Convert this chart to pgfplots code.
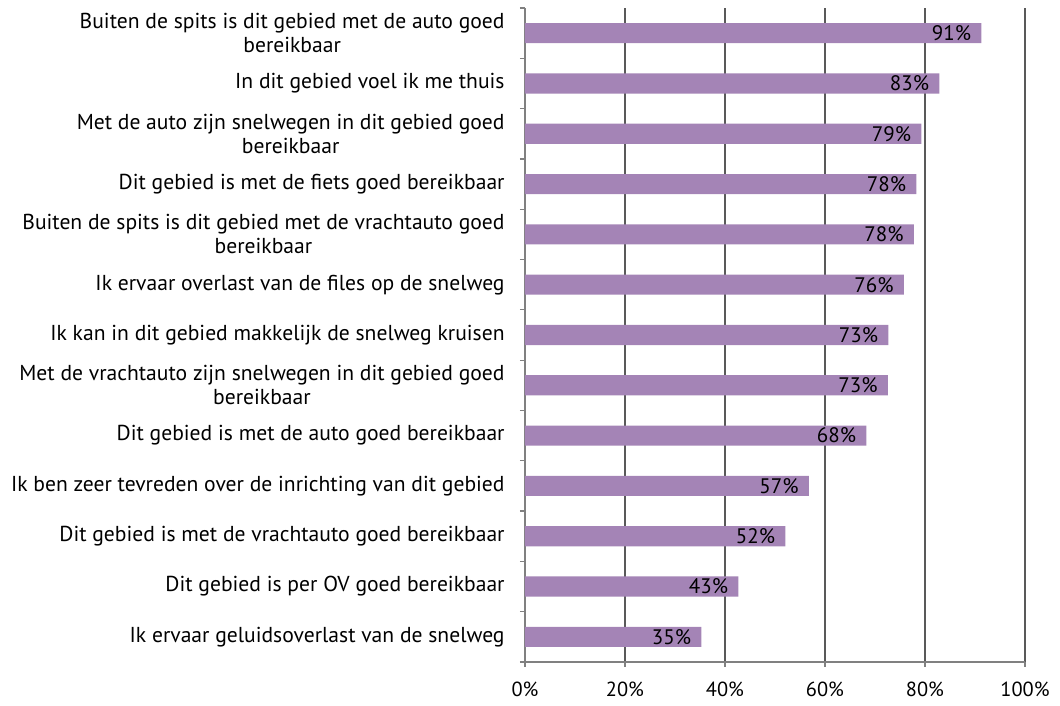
\documentclass[border=0pt]{standalone}
\usepackage{fontspec}
\setmainfont{PT Sans}
\usepackage{pgfplots}
\usepackage{pgfplotstable}
\pgfplotsset{compat=1.18}
\definecolor{barpurple}{RGB}{164,132,182}
\definecolor{gridgray}{RGB}{89,89,89}
\definecolor{axisgray}{RGB}{128,128,128}

\pgfplotstableread{
pos value lbl
12 91.3 91\%
11 82.9 83\%
10 79.3 79\%
9  78.3 78\%
8  77.8 78\%
7  75.8 76\%
6  72.7 73\%
5  72.6 73\%
4  68.3 68\%
3  56.8 57\%
2  52.1 52\%
1  42.7 43\%
0  35.3 35\%
}\scores

\begin{document}
\begin{tikzpicture}
\path[use as bounding box] (-262.5pt,-22pt) rectangle (267.5pt,331pt);
\begin{axis}[
    at={(0,0)}, anchor=south west,
    scale only axis,
    width=250pt, height=327pt,
    xbar, bar width=0.4,
    xmin=0, xmax=100,
    ymin=-0.5, ymax=12.5,
    xtick={0,20,...,100},
    xticklabel={\pgfmathprintnumber{\tick}\%},
    /pgf/number format/assume math mode=true,
    ytick={0,...,12},
    yticklabels={
        Ik ervaar geluidsoverlast van de snelweg,
        Dit gebied is per OV goed bereikbaar,
        Dit gebied is met de vrachtauto goed bereikbaar,
        Ik ben zeer tevreden over de inrichting van dit gebied,
        Dit gebied is met de auto goed bereikbaar,
        {Met de vrachtauto zijn snelwegen in dit gebied goed\\bereikbaar},
        Ik kan in dit gebied makkelijk de snelweg kruisen,
        Ik ervaar overlast van de files op de snelweg,
        {Buiten de spits is dit gebied met de vrachtauto goed\\bereikbaar},
        Dit gebied is met de fiets goed bereikbaar,
        {Met de auto zijn snelwegen in dit gebied goed\\bereikbaar},
        In dit gebied voel ik me thuis,
        {Buiten de spits is dit gebied met de auto goed\\bereikbaar},
    },
    minor ytick={-0.5,0.5,...,12.5},
    major tick length=2.5pt,
    minor tick length=2.5pt,
    tick align=outside,
    xtick pos=bottom, ytick pos=left,
    y tick style={draw=none},
    minor y tick style={draw=axisgray, line width=0.6pt},
    x tick style={draw=axisgray, line width=0.6pt},
    axis x line*=bottom, axis y line*=left,
    axis line style={draw=axisgray, line width=0.7pt},
    xmajorgrids=true,
    grid style={draw=gridgray, line width=0.6pt},
    yticklabel style={align=center, font=\fontsize{10.8}{12}\selectfont, inner sep=0pt, xshift=-7.5pt},
    xticklabel style={font=\fontsize{10.2}{12}\selectfont, yshift=-4pt},
    nodes near coords={\pgfplotspointmeta},
    point meta=explicit symbolic,
    nodes near coords style={anchor=east, font=\fontsize{10.5}{12}\selectfont, inner sep=1pt, xshift=-4pt},
    clip=false,
]
\addplot[fill=barpurple, draw=none] table[x=value, y=pos, meta=lbl] {\scores};
\end{axis}
\end{tikzpicture}
\end{document}
